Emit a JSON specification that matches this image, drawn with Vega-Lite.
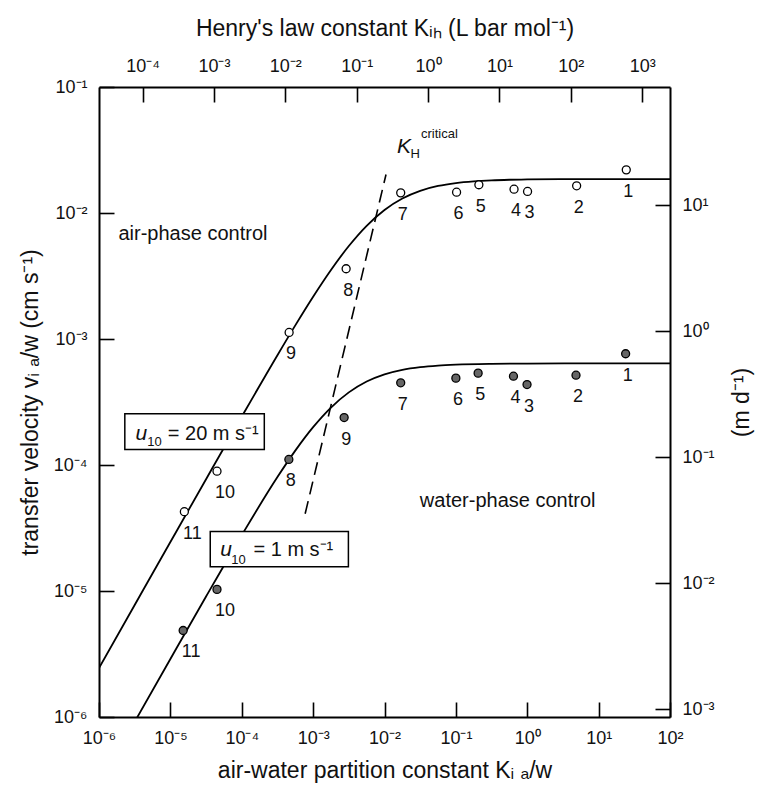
{
  "$schema": "https://vega.github.io/schema/vega-lite/v6.json",
  "autosize": {"type": "none"},
  "padding": {"left": 99, "top": 87, "right": 88, "bottom": 81},
  "width": 571,
  "height": 630,
  "background": "white",
  "config": {
    "view": {"stroke": null},
    "font": "Liberation Sans",
    "axis": {
      "domainColor": "black", "domainWidth": 2, "tickColor": "black", "tickWidth": 1.6,
      "tickSize": -15, "labelFontSize": 18, "labelFont": "Liberation Sans", "labelColor": "#111",
      "titleFontSize": 23, "titleFontWeight": "normal", "titleFont": "Liberation Sans", "titleColor": "#111",
      "grid": false, "labelPadding": 27, "labelFlush": false, "labelOverlap": false
    }
  },
  "datasets": {
    "curves": [
      {"u10": "20", "K": 1e-6, "v": 2.450e-6},
      {"u10": "20", "K": 3.162e-6, "v": 7.744e-6},
      {"u10": "20", "K": 1e-5, "v": 2.447e-5},
      {"u10": "20", "K": 3.162e-5, "v": 7.715e-5},
      {"u10": "20", "K": 1e-4, "v": 2.418e-4},
      {"u10": "20", "K": 3.162e-4, "v": 7.437e-4},
      {"u10": "20", "K": 5.623e-4, "v": 1.2826e-3},
      {"u10": "20", "K": 1e-3, "v": 2.165e-3},
      {"u10": "20", "K": 1.778e-3, "v": 3.530e-3},
      {"u10": "20", "K": 3.162e-3, "v": 5.469e-3},
      {"u10": "20", "K": 5.623e-3, "v": 7.915e-3},
      {"u10": "20", "K": 0.01, "v": 0.010573},
      {"u10": "20", "K": 0.01778, "v": 0.013035},
      {"u10": "20", "K": 0.03162, "v": 0.015},
      {"u10": "20", "K": 0.05623, "v": 0.016388},
      {"u10": "20", "K": 0.1, "v": 0.017289},
      {"u10": "20", "K": 0.1778, "v": 0.017839},
      {"u10": "20", "K": 0.3162, "v": 0.018165},
      {"u10": "20", "K": 0.5623, "v": 0.018353},
      {"u10": "20", "K": 1, "v": 0.018461},
      {"u10": "20", "K": 3.162, "v": 0.018556},
      {"u10": "20", "K": 10, "v": 0.018587},
      {"u10": "20", "K": 100, "v": 0.0186},
      {"u10": "1", "K": 3.162e-6, "v": 9.157e-7},
      {"u10": "1", "K": 1e-5, "v": 2.887e-6},
      {"u10": "1", "K": 3.162e-5, "v": 9.041e-6},
      {"u10": "1", "K": 1e-4, "v": 2.774e-5},
      {"u10": "1", "K": 3.162e-4, "v": 8.021e-5},
      {"u10": "1", "K": 5.623e-4, "v": 1.300e-4},
      {"u10": "1", "K": 1e-3, "v": 1.996e-4},
      {"u10": "1", "K": 1.778e-3, "v": 2.856e-4},
      {"u10": "1", "K": 3.162e-3, "v": 3.769e-4},
      {"u10": "1", "K": 5.623e-3, "v": 4.596e-4},
      {"u10": "1", "K": 0.01, "v": 5.243e-4},
      {"u10": "1", "K": 0.01778, "v": 5.693e-4},
      {"u10": "1", "K": 0.03162, "v": 5.982e-4},
      {"u10": "1", "K": 0.05623, "v": 6.158e-4},
      {"u10": "1", "K": 0.1, "v": 6.262e-4},
      {"u10": "1", "K": 0.3162, "v": 6.356e-4},
      {"u10": "1", "K": 1, "v": 6.386e-4},
      {"u10": "1", "K": 10, "v": 6.398e-4},
      {"u10": "1", "K": 100, "v": 6.4e-4}
    ],
    "points": [
      {"u10": "20", "n": "1", "K": 24.4, "v": 0.0220},
      {"u10": "20", "n": "2", "K": 4.92, "v": 0.01644},
      {"u10": "20", "n": "3", "K": 1.01, "v": 0.01483},
      {"u10": "20", "n": "4", "K": 0.653, "v": 0.01545},
      {"u10": "20", "n": "5", "K": 0.210, "v": 0.01675},
      {"u10": "20", "n": "6", "K": 0.1023, "v": 0.01462},
      {"u10": "20", "n": "7", "K": 0.01687, "v": 0.01445},
      {"u10": "20", "n": "8", "K": 2.90e-3, "v": 3.61e-3},
      {"u10": "20", "n": "9", "K": 4.61e-4, "v": 1.127e-3},
      {"u10": "20", "n": "10", "K": 4.50e-5, "v": 8.93e-5},
      {"u10": "20", "n": "11", "K": 1.57e-5, "v": 4.26e-5},
      {"u10": "1", "n": "1", "K": 23.9, "v": 7.64e-4},
      {"u10": "1", "n": "2", "K": 4.82, "v": 5.16e-4},
      {"u10": "1", "n": "3", "K": 0.993, "v": 4.35e-4},
      {"u10": "1", "n": "4", "K": 0.641, "v": 5.07e-4},
      {"u10": "1", "n": "5", "K": 0.205, "v": 5.36e-4},
      {"u10": "1", "n": "6", "K": 0.100, "v": 4.89e-4},
      {"u10": "1", "n": "7", "K": 0.01687, "v": 4.49e-4},
      {"u10": "1", "n": "8", "K": 4.57e-4, "v": 1.107e-4},
      {"u10": "1", "n": "9", "K": 2.72e-3, "v": 2.38e-4},
      {"u10": "1", "n": "10", "K": 4.50e-5, "v": 1.03e-5},
      {"u10": "1", "n": "11", "K": 1.51e-5, "v": 4.86e-6}
    ],
    "critical": [
      {"K": 0.0105, "v": 0.0202},
      {"K": 7.73e-4, "v": 4.10e-5}
    ],
    "boxes": [
      {"K": 2.30e-6, "K2": 2.07e-4, "v": 2.55e-4, "v2": 1.33e-4},
      {"K": 3.62e-5, "K2": 3.12e-3, "v": 2.96e-5, "v2": 1.56e-5}
    ],
    "notes": [
      {"K": 1.875e-6, "v": 6.12e-3, "t": "air-phase control"},
      {"K": 0.0313, "v": 4.62e-5, "t": "water-phase control"},
      {"K": 9.2e-6, "v": 1.585e-4, "t": "= 20 m s⁻¹"},
      {"K": 1.46e-4, "v": 1.88e-5, "t": "= 1 m s⁻¹"}
    ],
    "notesItalic": [
      {"K": 3.24e-6, "v": 1.585e-4, "t": "u"},
      {"K": 5.0e-5, "v": 1.88e-5, "t": "u"},
      {"K": 0.01496, "v": 0.0302, "t": "K"}
    ],
    "notesSmall": [
      {"K": 4.76e-6, "v": 1.41e-4, "t": "10"},
      {"K": 7.13e-5, "v": 1.64e-5, "t": "10"},
      {"K": 0.02312, "v": 0.02757, "t": "H"},
      {"K": 0.0324, "v": 0.0397, "t": "critical"}
    ]
  },
  "resolve": {"axis": {"x": "independent", "y": "independent"}},
  "layer": [
    {
      "data": {"name": "curves"},
      "mark": {"type": "line", "color": "black", "strokeWidth": 1.8, "clip": true, "interpolate": "monotone"},
      "encoding": {
        "x": {"field": "K", "type": "quantitative", "scale": {"type": "log", "domain": [1e-6, 100], "nice": false},
          "axis": {"orient": "bottom", "values": [1e-6, 1e-5, 1e-4, 1e-3, 1e-2, 1e-1, 1, 10, 100],
            "labelExpr": "'10' + replace(replace(replace(replace(replace(replace(replace(replace('' + round(log(datum.value) / LN10), '-', '⁻'), '0', '⁰'), '1', '¹'), '2', '²'), '3', '³'), '4', '⁴'), '5', '⁵'), '6', '⁶')",
            "title": "air-water partition constant Kᵢ ₐ/w", "titleY": 60, "titleBaseline": "alphabetic"}},
        "y": {"field": "v", "type": "quantitative", "scale": {"type": "log", "domain": [1e-6, 0.1], "nice": false},
          "axis": {"orient": "left", "values": [1e-6, 1e-5, 1e-4, 1e-3, 1e-2, 1e-1],
            "labelExpr": "'10' + replace(replace(replace(replace(replace(replace(replace(replace('' + round(log(datum.value) / LN10), '-', '⁻'), '0', '⁰'), '1', '¹'), '2', '²'), '3', '³'), '4', '⁴'), '5', '⁵'), '6', '⁶')",
            "title": "transfer velocity vᵢ ₐ/w (cm s⁻¹)", "titleX": -62, "titleBaseline": "alphabetic"}},
        "detail": {"field": "u10", "type": "nominal"}
      }
    },
    {
      "data": {"name": "critical"},
      "mark": {"type": "line", "color": "black", "strokeWidth": 1.6, "strokeDash": [13, 7]},
      "encoding": {
        "x": {"field": "K", "type": "quantitative", "scale": {"type": "log", "domain": [1e-6, 100], "nice": false}, "axis": null},
        "y": {"field": "v", "type": "quantitative", "scale": {"type": "log", "domain": [1e-6, 0.1], "nice": false}, "axis": null}
      }
    },
    {
      "data": {"name": "boxes"},
      "mark": {"type": "rect", "fill": "white", "stroke": "black", "strokeWidth": 1.5},
      "encoding": {
        "x": {"field": "K", "type": "quantitative", "scale": {"type": "log", "domain": [1e-6, 100], "nice": false}, "axis": null},
        "x2": {"field": "K2"},
        "y": {"field": "v", "type": "quantitative", "scale": {"type": "log", "domain": [1e-6, 0.1], "nice": false}, "axis": null},
        "y2": {"field": "v2"}
      }
    },
    {
      "data": {"name": "points"},
      "mark": {"type": "point", "shape": "circle", "filled": true, "size": 64, "stroke": "black", "strokeWidth": 1.3, "opacity": 1},
      "encoding": {
        "x": {"field": "K", "type": "quantitative", "scale": {"type": "log", "domain": [1e-6, 100], "nice": false},
          "axis": {"orient": "top", "values": [4.0816e-6, 4.0816e-5, 4.0816e-4, 4.0816e-3, 0.040816, 0.40816, 4.0816, 40.816],
            "labelExpr": "'10' + replace(replace(replace(replace(replace(replace(replace(replace('' + round(log(datum.value * 24.5) / LN10), '-', '⁻'), '0', '⁰'), '1', '¹'), '2', '²'), '3', '³'), '4', '⁴'), '5', '⁵'), '6', '⁶')",
            "title": "Henry's law constant Kᵢₕ (L bar mol⁻¹)", "titleY": -52, "titleBaseline": "alphabetic"}},
        "y": {"field": "v", "type": "quantitative", "scale": {"type": "log", "domain": [1e-6, 0.1], "nice": false},
          "axis": {"orient": "right", "values": [1.1574e-6, 1.1574e-5, 1.1574e-4, 1.1574e-3, 1.1574e-2],
            "labelExpr": "'10' + replace(replace(replace(replace(replace(replace(replace(replace('' + round(log(datum.value * 864) / LN10), '-', '⁻'), '0', '⁰'), '1', '¹'), '2', '²'), '3', '³'), '4', '⁴'), '5', '⁵'), '6', '⁶')",
            "title": "(m d⁻¹)", "titleAngle": -90, "titleX": 78, "titleBaseline": "alphabetic"}},
        "fill": {"field": "u10", "type": "nominal", "scale": {"domain": ["20", "1"], "range": ["white", "#666666"]}, "legend": null}
      }
    },
    {
      "data": {"name": "points"},
      "transform": [{"filter": "datum.n != '10' && datum.n != '11'"}],
      "mark": {"type": "text", "fontSize": 18, "font": "Liberation Sans", "color": "#111", "dy": 22, "dx": 2, "baseline": "middle", "align": "center"},
      "encoding": {
        "x": {"field": "K", "type": "quantitative", "scale": {"type": "log", "domain": [1e-6, 100], "nice": false}, "axis": null},
        "y": {"field": "v", "type": "quantitative", "scale": {"type": "log", "domain": [1e-6, 0.1], "nice": false}, "axis": null},
        "text": {"field": "n"}
      }
    },
    {
      "data": {"name": "points"},
      "transform": [{"filter": "datum.n == '10' || datum.n == '11'"}],
      "mark": {"type": "text", "fontSize": 18, "font": "Liberation Sans", "color": "#111", "dy": 22, "dx": 8, "baseline": "middle", "align": "center"},
      "encoding": {
        "x": {"field": "K", "type": "quantitative", "scale": {"type": "log", "domain": [1e-6, 100], "nice": false}, "axis": null},
        "y": {"field": "v", "type": "quantitative", "scale": {"type": "log", "domain": [1e-6, 0.1], "nice": false}, "axis": null},
        "text": {"field": "n"}
      }
    },
    {
      "data": {"name": "notes"},
      "mark": {"type": "text", "fontSize": 20, "font": "Liberation Sans", "color": "#111", "align": "left", "baseline": "alphabetic"},
      "encoding": {
        "x": {"field": "K", "type": "quantitative", "scale": {"type": "log", "domain": [1e-6, 100], "nice": false}, "axis": null},
        "y": {"field": "v", "type": "quantitative", "scale": {"type": "log", "domain": [1e-6, 0.1], "nice": false}, "axis": null},
        "text": {"field": "t"}
      }
    },
    {
      "data": {"name": "notesItalic"},
      "mark": {"type": "text", "fontSize": 21, "font": "Liberation Sans", "fontStyle": "italic", "color": "#111", "align": "left", "baseline": "alphabetic"},
      "encoding": {
        "x": {"field": "K", "type": "quantitative", "scale": {"type": "log", "domain": [1e-6, 100], "nice": false}, "axis": null},
        "y": {"field": "v", "type": "quantitative", "scale": {"type": "log", "domain": [1e-6, 0.1], "nice": false}, "axis": null},
        "text": {"field": "t"}
      }
    },
    {
      "data": {"name": "notesSmall"},
      "mark": {"type": "text", "fontSize": 13, "font": "Liberation Sans", "color": "#111", "align": "left", "baseline": "alphabetic"},
      "encoding": {
        "x": {"field": "K", "type": "quantitative", "scale": {"type": "log", "domain": [1e-6, 100], "nice": false}, "axis": null},
        "y": {"field": "v", "type": "quantitative", "scale": {"type": "log", "domain": [1e-6, 0.1], "nice": false}, "axis": null},
        "text": {"field": "t"}
      }
    }
  ]
}
